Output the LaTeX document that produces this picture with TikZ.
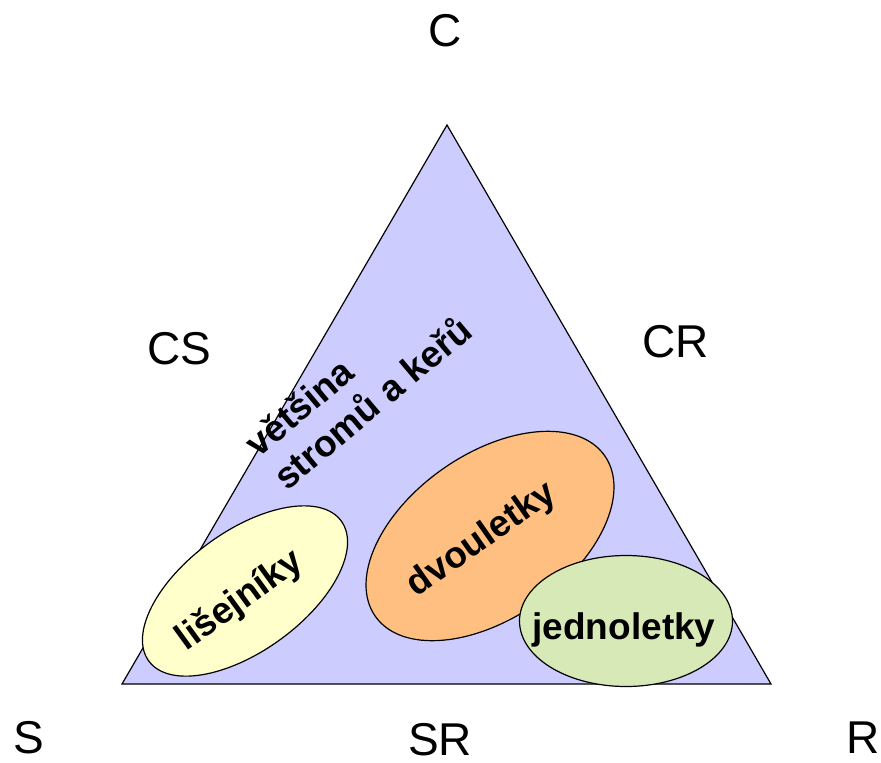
\documentclass[tikz,border=0pt]{standalone}
\usepackage{fontspec}
\setmainfont{Liberation Sans}
\usetikzlibrary{shapes.geometric}

\definecolor{triblue}{HTML}{CCCCFF}
\definecolor{lichyellow}{HTML}{FFFFCC}
\definecolor{biorange}{HTML}{FFBF80}
\definecolor{anngreen}{HTML}{D8E9B8}

\tikzset{
  corner/.style={font=\fontsize{46}{46}\selectfont, inner sep=0pt},
  blob/.style={ellipse, draw, line width=1.2pt, inner sep=0pt},
  plant/.style={inner sep=0pt, font=\fontsize{37}{44}\selectfont\bfseries},
}

\begin{document}
\begin{tikzpicture}[x=1pt,y=-1pt]

\useasboundingbox (0,0) rectangle (881,763);

% triangle of strategies
\coordinate (top) at (447,125);
\coordinate (left) at (122,684);
\coordinate (right) at (771,684);
\draw[line width=1.2pt, fill=triblue, line join=miter] (left)--(top)--(right)--cycle;

\node [corner] (c) at (445,31) {C};
\node [corner] (cs) at (179,349) {CS};
\node [corner] (cr) at (676,342) {CR};
\node [corner] (s) at (29,738) {S};
\node [corner] (sr) at (440,740) {SR};
\node [corner] (r) at (863,738) {R};

% groups of plants
\node [blob, fill=lichyellow, rotate=36, minimum width=238, minimum height=120] (lich) at (245,591) {};
\node [plant, rotate=36] (lichtxt) at (240,601) {lišejníky};
\node [blob, fill=biorange, rotate=35, minimum width=280, minimum height=164] (bien) at (490,536) {};
\node [plant, rotate=35] (bientxt) at (482,540) {dvouletky};
\node [blob, fill=anngreen, minimum width=213, minimum height=131] (annu) at (626,621) {};
\node [plant] (annutxt) at (624,630) {jednoletky};

\node [plant, rotate=40, align=left] (trees) at (358,386) {většina\\stromů a keřů};

\end{tikzpicture}
\end{document}
